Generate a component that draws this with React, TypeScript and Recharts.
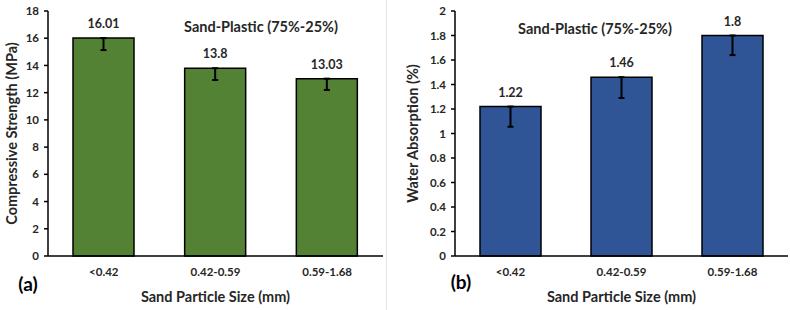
import { BarChart, Bar, XAxis, YAxis, ErrorBar, LabelList, Label } from "recharts";

const sizes = ["<0.42", "0.42-0.59", "0.59-1.68"];
const strength = [16.01, 13.8, 13.03];
const strengthErr = [0.88, 0.87, 0.83];
const absorption = [1.22, 1.46, 1.8];
const absorptionErr = [0.165, 0.17, 0.16];
const strengthTicks = [0, 2, 4, 6, 8, 10, 12, 14, 16, 18];
const absorptionTicks = [0, 0.2, 0.4, 0.6, 0.8, 1, 1.2, 1.4, 1.6, 1.8, 2];

const FONT = "Lato, 'Open Sans', sans-serif";
const TXT = "#262626";
const TITLE_SIZE = 14.5;

const strengthData = sizes.map((cat, i) => ({
  cat,
  value: strength[i],
  err: [strengthErr[i], 0],
}));
const absorptionData = sizes.map((cat, i) => ({
  cat,
  value: absorption[i],
  err: [absorptionErr[i], 0],
}));

interface PanelProps {
  data: any[];
  color: string;
  ticks: number[];
  domain: [number, number];
  width: number;
  yAxisWidth: number;
  rightMargin: number;
  yTitle: string;
  yTitleX: number;
}

function Panel({ data, color, ticks, domain, width, yAxisWidth, rightMargin, yTitle, yTitleX }: PanelProps) {
  return (
    <BarChart
      width={width}
      height={310}
      data={data}
      margin={{ top: 11, right: rightMargin, left: 0, bottom: 0 }}
      barCategoryGap={0}
    >
      <XAxis
        dataKey="cat"
        height={54}
        tickLine={false}
        tickMargin={12}
        tickSize={0}
        axisLine={{ stroke: "#000", strokeWidth: 1.5 }}
        tick={{ fill: TXT, fontSize: 11.5, fontWeight: 700, fontFamily: FONT }}
      >
        <Label
          value="Sand Particle Size (mm)"
          position="insideBottom"
          offset={8}
          style={{ fill: TXT, fontSize: TITLE_SIZE, fontWeight: 700, fontFamily: FONT }}
        />
      </XAxis>
      <XAxis xAxisId="top" dataKey="cat" orientation="top" height={0} tick={false} tickLine={false} axisLine={{ stroke: "#000", strokeWidth: 1.5 }} />
      <YAxis
        width={yAxisWidth}
        domain={domain}
        ticks={ticks}
        interval={0}
        tickSize={4}
        tickMargin={5}
        tickLine={{ stroke: "#000", strokeWidth: 1.5 }}
        axisLine={{ stroke: "#000", strokeWidth: 1.5 }}
        tick={{ fill: TXT, fontSize: 11.5, fontWeight: 700, fontFamily: FONT }}
      >
        <Label
          content={(props: any) => {
            const vb = props.viewBox || { y: 11, height: 245 };
            const cy = vb.y + vb.height / 2;
            return (
              <text
                x={yTitleX}
                y={cy}
                transform={`rotate(-90 ${yTitleX} ${cy})`}
                textAnchor="middle"
                dominantBaseline="central"
                fill={TXT}
                fontSize={TITLE_SIZE}
                fontWeight={700}
                fontFamily={FONT}
              >
                {yTitle}
              </text>
            );
          }}
        />
      </YAxis>
      <YAxis yAxisId="r" orientation="right" width={0} domain={[0, 1]} tick={false} tickLine={false} axisLine={{ stroke: "#000", strokeWidth: 1.5 }} />
      <Bar dataKey="value" fill={color} stroke="#000" strokeWidth={1.5} barSize={61} isAnimationActive={false}>
        <ErrorBar dataKey="err" direction="y" width={3} stroke="#000" strokeWidth={2} />
        <LabelList
          dataKey="value"
          position="top"
          offset={10}
          style={{ fill: TXT, fontSize: 12.5, fontWeight: 700, fontFamily: FONT }}
        />
      </Bar>
    </BarChart>
  );
}

const textStyle = {
  position: "absolute" as const,
  transform: "translate(-50%, -50%)",
  fontFamily: FONT,
  fontWeight: 700,
  color: TXT,
  whiteSpace: "nowrap" as const,
};

export default function App() {
  return (
    <div style={{ position: "absolute", left: 0, top: 0, width: 790, height: 310, background: "#fff", overflow: "hidden" }}>
      <div style={{ position: "absolute", left: 0, top: 0 }}>
        <Panel
          data={strengthData}
          color="#548235"
          ticks={strengthTicks}
          domain={[0, 18]}
          width={386}
          yAxisWidth={48}
          rightMargin={3}
          yTitle="Compressive Strength (MPa)"
          yTitleX={11}
        />
      </div>
      <div style={{ position: "absolute", left: 386, top: 0 }}>
        <Panel
          data={absorptionData}
          color="#2F5597"
          ticks={absorptionTicks}
          domain={[0, 2]}
          width={404}
          yAxisWidth={69}
          rightMargin={2}
          yTitle="Water Absorption (%)"
          yTitleX={26}
        />
      </div>
      <div style={{ position: "absolute", left: 386, top: 0, width: 1, height: 310, background: "#e3e3e3" }} />
      <div style={{ ...textStyle, left: 261, top: 26, fontSize: TITLE_SIZE }}>Sand-Plastic (75%-25%)</div>
      <div style={{ ...textStyle, left: 595, top: 28, fontSize: TITLE_SIZE }}>Sand-Plastic (75%-25%)</div>
      <div style={{ ...textStyle, left: 28, top: 283, fontSize: 19, color: "#000" }}>(a)</div>
      <div style={{ ...textStyle, left: 461, top: 281, fontSize: 19, color: "#000" }}>(b)</div>
    </div>
  );
}
